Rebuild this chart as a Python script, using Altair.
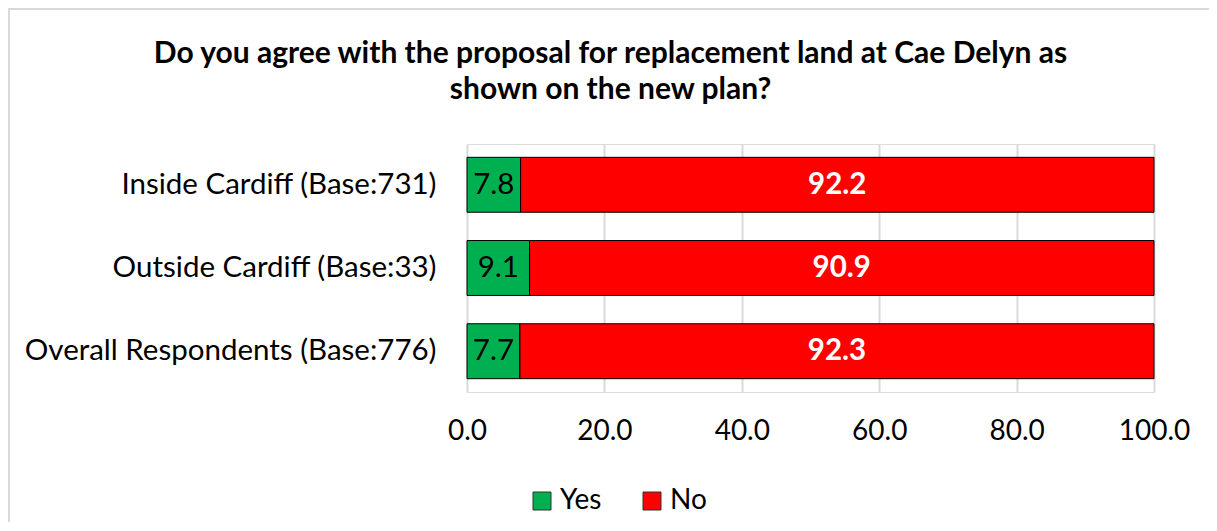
import altair as alt
import pandas as pd

categories = ["Inside Cardiff (Base:731)", "Outside Cardiff (Base:33)", "Overall Respondents (Base:776)"]
yes_values = [7.8, 9.1, 7.7]
no_values = [92.2, 90.9, 92.3]
series = ["Yes", "No"]
colors = ["#00B050", "#FF0000"]
x_ticks = [0, 20, 40, 60, 80, 100]
title_lines = ["Do you agree with the proposal for replacement land at Cae Delyn as", "shown on the new plan?"]

rows = []
for c, y, n in zip(categories, yes_values, no_values):
    rows.append({"category": c, "response": "Yes", "value": y, "order": 0})
    rows.append({"category": c, "response": "No", "value": n, "order": 1})
df = pd.DataFrame(rows)

FONT = "Lato"
FS = 28
W, H = 687, 248

base = alt.Chart(df).transform_stack(
    stack="value", groupby=["category"], as_=["x0", "x1"], sort=[alt.SortField("order")]
).transform_calculate(mid="(datum.x0 + datum.x1) / 2")

y_enc = alt.Y("category:N", sort=categories, title=None,
              scale=alt.Scale(paddingInner=0.34, paddingOuter=0.16),
              axis=alt.Axis(labelFontSize=29.5, labelFont=FONT, labelColor="#000000",
                            labelPadding=31, ticks=False, domain=False, labelLimit=450))

bars = base.mark_bar(stroke="#000000", strokeWidth=1).encode(
    y=y_enc,
    x=alt.X("x0:Q", title=None, scale=alt.Scale(domain=[0, 100]),
            axis=alt.Axis(values=x_ticks, format=".1f", labelFontSize=FS, labelFont=FONT,
                          labelColor="#000000", labelPadding=25, ticks=False, domain=False,
                          labelFlush=False,
                          grid=True, gridColor="#d9d9d9", gridWidth=2)),
    x2="x1:Q",
    color=alt.Color("response:N", scale=alt.Scale(domain=series, range=colors),
                    legend=alt.Legend(title=None, orient="none", direction="horizontal",
                                      legendX=61, legendY=343, symbolType="square",
                                      symbolSize=324, symbolStrokeColor="#333333",
                                      symbolStrokeWidth=1, labelFontSize=FS, labelFont=FONT,
                                      labelColor="#000000", columnPadding=36, labelOffset=4)),
)

yes_text = base.transform_filter(alt.datum.response == "Yes").mark_text(
    fontSize=29.5, font=FONT, color="#000000"
).encode(y=alt.Y("category:N", sort=categories), x="mid:Q", text=alt.Text("value:Q", format=".1f"))

no_text = base.transform_filter(alt.datum.response == "No").mark_text(
    fontSize=29.5, font=FONT, color="#FFFFFF", fontWeight="bold"
).encode(y=alt.Y("category:N", sort=categories), x="mid:Q", text=alt.Text("value:Q", format=".1f"))

border_top = alt.Chart(df).mark_rule(color="#d9d9d9", strokeWidth=2).encode(
    x=alt.value(-458), x2=alt.value(W + 60), y=alt.value(-135))
border_left = alt.Chart(df).mark_rule(color="#d9d9d9", strokeWidth=2).encode(
    x=alt.value(-458), y=alt.value(-136), y2=alt.value(H + 140))

chart = alt.layer(border_top, border_left, bars, yes_text, no_text).properties(
    width=W, height=H,
    title=alt.TitleParams(title_lines, fontSize=30, font=FONT, fontWeight="bold",
                          color="#000000", anchor="middle", dx=-200, offset=-97.5, lineHeight=36),
    autosize=alt.AutoSizeParams(type="none"),
    padding={"left": 459, "top": 136, "right": 55, "bottom": 130},
).configure_view(stroke=None).configure(background="#FFFFFF")

chart.save("out.html", embed_options={"renderer": "svg", "actions": False})
